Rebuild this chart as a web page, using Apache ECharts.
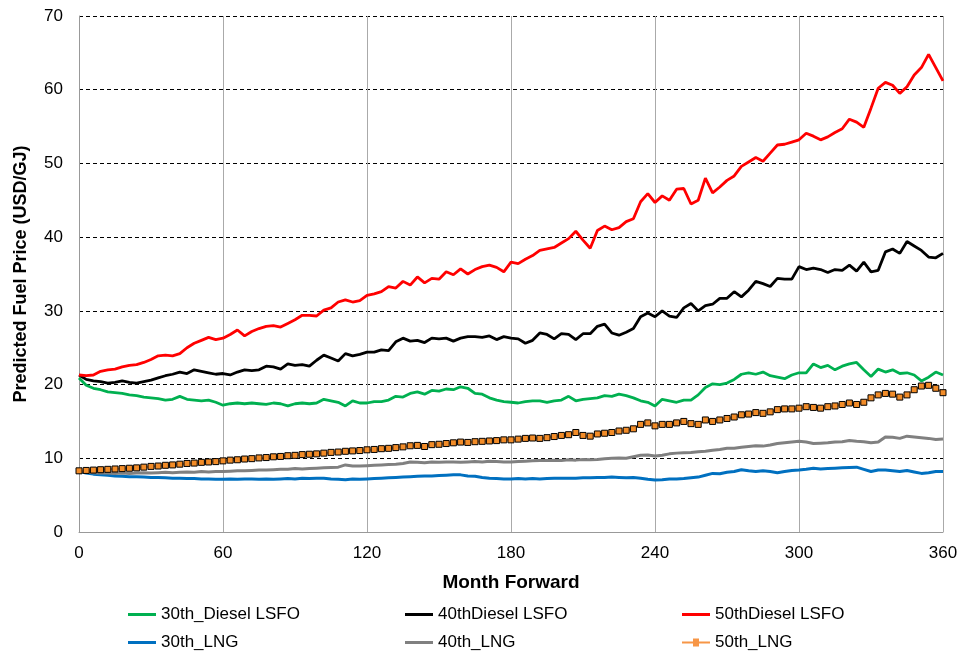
<!DOCTYPE html>
<html>
<head>
<meta charset="utf-8">
<script src="https://cdn.jsdelivr.net/npm/echarts@6/dist/echarts.min.js"></script>
<style>
html,body{margin:0;padding:0;background:#fff;}
#chart{width:961px;height:653px;}
</style>
</head>
<body>
<div id="chart"></div>
<script>
// Month index (every 3 months, 0..360)
const months = [0,3,6,9,12,15,18,21,24,27,30,33,36,39,42,45,48,51,54,57,60,63,66,69,72,75,78,81,84,87,90,93,96,99,102,105,108,111,114,117,120,123,126,129,132,135,138,141,144,147,150,153,156,159,162,165,168,171,174,177,180,183,186,189,192,195,198,201,204,207,210,213,216,219,222,225,228,231,234,237,240,243,246,249,252,255,258,261,264,267,270,273,276,279,282,285,288,291,294,297,300,303,306,309,312,315,318,321,324,327,330,333,336,339,342,345,348,351,354,357,360];

const seriesNames = ['30th_Diesel LSFO','40thDiesel LSFO','50thDiesel LSFO','30th_LNG','40th_LNG','50th_LNG'];

const diesel30 = [20.9,19.9,19.5,19.3,19.0,18.9,18.8,18.6,18.5,18.3,18.2,18.1,17.9,18.0,18.4,18.0,17.9,17.8,17.9,17.6,17.2,17.4,17.5,17.4,17.5,17.4,17.3,17.5,17.4,17.1,17.4,17.5,17.4,17.5,18.0,17.8,17.6,17.1,17.8,17.5,17.5,17.7,17.7,17.9,18.4,18.3,18.8,19.0,18.7,19.2,19.1,19.4,19.3,19.7,19.5,18.8,18.7,18.2,17.9,17.7,17.6,17.5,17.7,17.8,17.8,17.6,17.8,17.9,18.4,17.8,18.0,18.1,18.2,18.5,18.4,18.7,18.5,18.2,17.8,17.6,17.1,18.0,17.8,17.6,17.9,17.9,18.6,19.6,20.1,20.0,20.2,20.7,21.4,21.6,21.4,21.7,21.2,21.0,20.8,21.3,21.6,21.6,22.8,22.3,22.6,22.0,22.5,22.8,23.0,22.0,21.1,22.1,21.7,22.0,21.5,21.6,21.3,20.5,21.0,21.7,21.3];

const diesel40 = [21.3,20.7,20.5,20.4,20.2,20.3,20.5,20.3,20.2,20.4,20.6,20.9,21.2,21.4,21.7,21.5,22.0,21.8,21.6,21.4,21.5,21.3,21.7,22.0,21.9,22.0,22.5,22.4,22.1,22.8,22.6,22.7,22.5,23.3,24.0,23.6,23.2,24.2,23.9,24.1,24.4,24.4,24.7,24.6,25.8,26.3,25.9,26.0,25.7,26.3,26.2,26.3,25.9,26.3,26.5,26.5,26.4,26.6,26.1,26.5,26.3,26.2,25.6,26.0,27.0,26.8,26.2,26.9,26.8,26.1,26.9,26.9,27.9,28.2,27.0,26.7,27.1,27.6,29.2,29.7,29.2,30.0,29.3,29.1,30.4,31.0,30.0,30.7,30.9,31.7,31.7,32.6,31.9,32.8,34.0,33.7,33.3,34.4,34.3,34.3,36.0,35.6,35.8,35.6,35.2,35.6,35.5,36.2,35.4,36.6,35.3,35.5,38.0,38.4,37.8,39.4,38.8,38.2,37.3,37.2,37.8];

const diesel50 = [21.3,21.2,21.3,21.8,22.0,22.1,22.4,22.6,22.7,23.0,23.4,23.9,24.0,23.9,24.2,25.0,25.6,26.0,26.4,26.1,26.3,26.8,27.4,26.6,27.2,27.6,27.9,28.0,27.8,28.3,28.8,29.4,29.4,29.3,30.1,30.4,31.2,31.5,31.2,31.4,32.1,32.3,32.6,33.3,33.1,34.0,33.5,34.6,33.8,34.4,34.3,35.3,34.9,35.7,35.0,35.6,36.0,36.2,35.9,35.3,36.6,36.4,37.0,37.5,38.2,38.4,38.6,39.2,39.8,40.8,39.6,38.5,40.9,41.5,41.0,41.3,42.1,42.5,44.8,45.9,44.7,45.6,45.0,46.5,46.6,44.5,45.0,48.0,46.0,46.8,47.7,48.3,49.6,50.2,50.8,50.3,51.4,52.5,52.6,52.9,53.2,54.1,53.7,53.2,53.6,54.2,54.7,56.0,55.6,54.9,57.5,60.2,61.0,60.6,59.5,60.4,62.0,63.0,64.8,63.0,61.2];

const lng30 = [8.2,8.0,7.85,7.75,7.7,7.6,7.55,7.5,7.5,7.45,7.4,7.4,7.35,7.3,7.3,7.25,7.25,7.2,7.2,7.15,7.15,7.2,7.15,7.2,7.2,7.15,7.2,7.15,7.2,7.25,7.2,7.3,7.25,7.3,7.3,7.2,7.15,7.1,7.2,7.15,7.2,7.25,7.3,7.35,7.4,7.45,7.5,7.55,7.6,7.6,7.65,7.7,7.75,7.75,7.6,7.55,7.4,7.3,7.25,7.2,7.2,7.25,7.2,7.25,7.2,7.25,7.3,7.3,7.3,7.3,7.35,7.35,7.4,7.4,7.45,7.4,7.35,7.4,7.3,7.15,7.05,7.1,7.2,7.2,7.25,7.35,7.45,7.7,7.95,7.9,8.1,8.2,8.45,8.3,8.2,8.3,8.2,8.05,8.2,8.35,8.4,8.5,8.65,8.55,8.6,8.65,8.7,8.75,8.8,8.5,8.2,8.4,8.4,8.3,8.2,8.35,8.15,7.95,8.05,8.2,8.2];

const lng40 = [8.2,8.1,8.05,8.0,8.0,7.95,8.0,7.95,8.0,8.05,8.0,8.05,8.1,8.05,8.1,8.15,8.1,8.2,8.15,8.2,8.2,8.25,8.3,8.3,8.35,8.4,8.4,8.45,8.5,8.5,8.6,8.55,8.6,8.65,8.7,8.75,8.8,9.1,8.95,8.95,9.0,9.05,9.1,9.15,9.2,9.3,9.5,9.45,9.4,9.5,9.45,9.5,9.5,9.45,9.5,9.55,9.5,9.6,9.55,9.5,9.5,9.55,9.6,9.65,9.7,9.7,9.75,9.7,9.8,9.75,9.85,9.8,9.85,9.95,10.0,10.05,10.0,10.2,10.4,10.45,10.3,10.4,10.6,10.7,10.75,10.8,10.9,10.95,11.1,11.2,11.35,11.35,11.5,11.6,11.7,11.65,11.8,12.0,12.1,12.2,12.3,12.2,12.0,12.05,12.1,12.2,12.25,12.4,12.3,12.25,12.1,12.2,12.9,12.85,12.7,13.0,12.9,12.8,12.7,12.55,12.6];

const lng50 = [8.3,8.35,8.4,8.45,8.5,8.55,8.6,8.65,8.7,8.8,8.9,8.95,9.05,9.1,9.2,9.3,9.35,9.45,9.5,9.55,9.65,9.75,9.8,9.9,9.95,10.05,10.1,10.2,10.25,10.35,10.4,10.5,10.55,10.6,10.7,10.8,10.85,10.95,11.0,11.05,11.15,11.2,11.3,11.35,11.45,11.55,11.7,11.75,11.6,11.85,11.9,12.0,12.1,12.2,12.15,12.25,12.3,12.35,12.4,12.5,12.5,12.6,12.7,12.75,12.7,12.8,12.95,13.1,13.2,13.5,13.1,13.0,13.3,13.4,13.5,13.7,13.8,14.0,14.6,14.8,14.4,14.6,14.6,14.8,15.0,14.7,14.6,15.2,15.0,15.2,15.4,15.6,15.9,16.0,16.2,16.1,16.3,16.6,16.7,16.7,16.8,17.0,16.9,16.8,17.0,17.1,17.3,17.5,17.3,17.6,18.2,18.6,18.8,18.7,18.3,18.6,19.3,19.8,19.9,19.5,18.9];

const xTicks = {min:0, max:360, interval:60};
const yTicks = {min:0, max:70, interval:10};

const FONT = '"Liberation Sans", Arial, sans-serif';
const colors = ['#00B050','#000000','#FF0000','#0070C0','#808080','#F79646'];
function pairs(vals){ return months.map((m,i)=>[m, vals[i]]); }

const chart = echarts.init(document.getElementById('chart'), null, {renderer:'canvas'});

function lineSeries(name, vals, color, width, z){
  return {name, type:'line', data:pairs(vals), showSymbol:false, symbol:'none',
    lineStyle:{color, width}, itemStyle:{color}, z, animation:false};
}

const legendPos = [
  {left:123, top:601},{left:400, top:601},{left:677, top:601},
  {left:123, top:629},{left:400, top:629},{left:677, top:629}
];
const lineIcon = 'path://M0,0 H28 V3 H0 Z';
const markIcon = 'path://M0,3 H11 V0 H17 V3 H28 V5 H17 V8 H11 V5 H0 Z';

chart.setOption({
  animation:false,
  backgroundColor:'#fff',
  grid:{left:79, right:18, top:16, bottom:121, containLabel:false},
  legend: seriesNames.map((n,i)=>({
    data:[{name:n, icon: i===5 ? markIcon : lineIcon}],
    left:legendPos[i].left, top:legendPos[i].top, orient:'horizontal',
    itemWidth:28, itemHeight: i===5 ? 8 : 3, itemGap:4,
    itemStyle:{color:colors[i], borderWidth:0},
    textStyle:{fontFamily:FONT, fontSize:17, color:'#000'}
  })),
  xAxis:{
    type:'value', min:xTicks.min, max:xTicks.max, interval:xTicks.interval,
    name:'Month Forward', nameLocation:'middle', nameGap:41,
    nameTextStyle:{fontFamily:FONT, fontSize:19, fontWeight:'bold', color:'#000'},
    axisLine:{show:true, lineStyle:{color:'#999', width:1}},
    axisTick:{show:false},
    axisLabel:{fontFamily:FONT, fontSize:17, color:'#000', margin:13},
    splitLine:{show:true, lineStyle:{color:'#aaa', width:1, type:'solid'}}
  },
  yAxis:{
    type:'value', min:yTicks.min, max:yTicks.max, interval:yTicks.interval,
    name:'Predicted Fuel Price (USD/GJ)', nameLocation:'middle', nameGap:49,
    nameTextStyle:{fontFamily:FONT, fontSize:18, fontWeight:'bold', color:'#000'},
    axisLine:{show:true, lineStyle:{color:'#999', width:1}},
    axisTick:{show:false},
    axisLabel:{fontFamily:FONT, fontSize:17, color:'#000', margin:16},
    splitLine:{show:true, lineStyle:{color:'#000', width:1, type:[4,3]}}
  },
  series:[
    lineSeries(seriesNames[0], diesel30, colors[0], 2.8, 3),
    lineSeries(seriesNames[1], diesel40, colors[1], 2.8, 4),
    lineSeries(seriesNames[2], diesel50, colors[2], 2.8, 5),
    lineSeries(seriesNames[3], lng30, colors[3], 3, 3),
    lineSeries(seriesNames[4], lng40, colors[4], 3, 3),
    {name:seriesNames[5], type:'line', data:pairs(lng50), showSymbol:true, symbol:'rect', symbolSize:6,
      lineStyle:{color:colors[5], width:2}, itemStyle:{color:'#F28C28', borderColor:'#000', borderWidth:1}, z:4}
  ]
});
</script>
</body>
</html>
